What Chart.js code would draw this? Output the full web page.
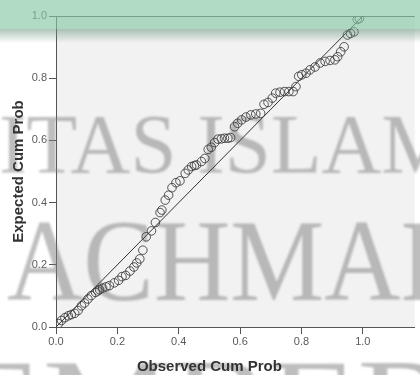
<!DOCTYPE html>
<html>
<head>
<meta charset="utf-8">
<script src="https://cdn.jsdelivr.net/npm/chart.js@4/dist/chart.umd.min.js"></script>
<style>
  html, body { margin: 0; padding: 0; background: #ffffff; }
  #wrap { width: 420px; height: 375px; position: relative; }
</style>
</head>
<body>
<div id="wrap"><canvas id="pp"></canvas></div>
<script>
// P-P plot data: observed vs expected cumulative probability
const observed = [
  0.008, 0.018, 0.029, 0.040, 0.050, 0.061, 0.072, 0.083, 0.093, 0.104,
  0.115, 0.129, 0.136, 0.142, 0.152, 0.163, 0.174, 0.190, 0.204, 0.215,
  0.227, 0.241, 0.254, 0.263, 0.273, 0.283, 0.294, 0.311, 0.324, 0.339,
  0.345, 0.356, 0.367, 0.378, 0.391, 0.404, 0.421, 0.431, 0.442, 0.451,
  0.458, 0.474, 0.485, 0.496, 0.506, 0.517, 0.528, 0.539, 0.549, 0.560,
  0.569, 0.582, 0.592, 0.605, 0.619, 0.635, 0.651, 0.667, 0.678, 0.691,
  0.705, 0.716, 0.730, 0.745, 0.759, 0.773, 0.782, 0.791, 0.801, 0.815,
  0.828, 0.844, 0.861, 0.877, 0.893, 0.909, 0.918, 0.928, 0.939, 0.950,
  0.960, 0.971, 0.982, 0.989
];
const expected = [
  0.011, 0.021, 0.030, 0.036, 0.040, 0.044, 0.053, 0.068, 0.077, 0.090,
  0.101, 0.111, 0.116, 0.120, 0.125, 0.129, 0.133, 0.142, 0.150, 0.162,
  0.166, 0.180, 0.193, 0.206, 0.219, 0.247, 0.290, 0.309, 0.336, 0.368,
  0.376, 0.408, 0.424, 0.448, 0.464, 0.470, 0.494, 0.505, 0.516, 0.519,
  0.521, 0.532, 0.542, 0.571, 0.578, 0.593, 0.604, 0.605, 0.607, 0.607,
  0.609, 0.644, 0.655, 0.666, 0.675, 0.682, 0.685, 0.687, 0.716, 0.722,
  0.736, 0.752, 0.755, 0.757, 0.757, 0.757, 0.773, 0.806, 0.811, 0.816,
  0.827, 0.836, 0.849, 0.854, 0.857, 0.859, 0.869, 0.885, 0.901, 0.939,
  0.944, 0.949, 0.989, 0.992
];
const refLine = [0, 1];
const tickValues = [0, 0.2, 0.4, 0.6, 0.8, 1.0];
const xTitle = "Observed Cum Prob";
const yTitle = "Expected Cum Prob";
const watermark = ["ITAS ISLAM", "ACHMAD", "EMBER"];

const points = observed.map((x, i) => ({ x: x, y: expected[i] }));
const diag = refLine.map(v => ({ x: v, y: v }));

const ppPlugin = {
  id: "ppDecor",
  beforeDraw(chart) {
    const { ctx, chartArea: a } = chart;
    ctx.save();
    ctx.fillStyle = "#f2f2f2";
    ctx.fillRect(a.left, a.top, a.right - a.left, a.bottom - a.top);
    ctx.restore();
  },
  beforeDatasetsDraw(chart) {
    const { ctx, chartArea: a, scales } = chart;
    ctx.save();
    // top frame line
    ctx.strokeStyle = "#555";
    ctx.lineWidth = 1;
    ctx.beginPath();
    ctx.moveTo(a.left, a.top + 0.5);
    ctx.lineTo(a.right, a.top + 0.5);
    ctx.stroke();

    // watermark (soft grey serif)
    ctx.save();
    ctx.filter = "blur(1px)";
    ctx.fillStyle = "rgba(125,125,125,0.5)";
    ctx.textBaseline = "alphabetic";
    const fit = (txt, size, x, y, w) => {
      ctx.font = size + "px 'Liberation Serif', serif";
      const m = ctx.measureText(txt).width;
      ctx.save();
      ctx.translate(x, y);
      ctx.scale(w / m, 1);
      ctx.fillText(txt, 0, 0);
      ctx.restore();
    };
    fit(watermark[0], 85, -1, 173, 456);
    fit(watermark[1], 116, 7, 300, 470);
    fit(watermark[2], 116, -46, 440, 500);
    ctx.restore();

    // titles, centred on the 0..1 range
    ctx.fillStyle = "#333";
    ctx.font = "bold 15px 'Liberation Sans', Arial, sans-serif";
    ctx.textAlign = "center";
    ctx.textBaseline = "middle";
    const xc = (scales.x.getPixelForValue(0) + scales.x.getPixelForValue(1)) / 2;
    ctx.fillText(xTitle, xc, 367);
    const yc = (scales.y.getPixelForValue(0) + scales.y.getPixelForValue(1)) / 2;
    ctx.translate(19, yc);
    ctx.rotate(-Math.PI / 2);
    ctx.fillText(yTitle, 0, 0);
    ctx.restore();
  },
  afterDraw(chart) {
    const { ctx, width } = chart;
    ctx.save();
    ctx.fillStyle = "rgba(135,200,165,0.65)";
    ctx.fillRect(0, 0, width, 29);
    const g = ctx.createLinearGradient(0, 29, 0, 43);
    g.addColorStop(0, "rgba(110,150,130,0.55)");
    g.addColorStop(1, "rgba(110,150,130,0)");
    ctx.fillStyle = g;
    ctx.fillRect(0, 29, width, 14);
    ctx.restore();
  }
};

new Chart(document.getElementById("pp"), {
  type: "scatter",
  data: {
    datasets: [
      {
        label: "Observed",
        data: points,
        pointStyle: "circle",
        pointRadius: 4.3,
        pointBorderWidth: 1,
        borderColor: "rgba(55,55,55,0.85)",
        backgroundColor: "rgba(0,0,0,0)",
      },
      {
        type: "line",
        label: "Reference",
        data: diag,
        borderColor: "#333",
        borderWidth: 1,
        pointRadius: 0,
        fill: false,
      },
    ],
  },
  options: {
    responsive: true,
    maintainAspectRatio: false,
    animation: false,
    layout: { padding: { top: 16, right: 0, left: 0, bottom: 0 } },
    plugins: { legend: { display: false }, tooltip: { enabled: false } },
    scales: {
      x: {
        type: "linear",
        min: 0,
        max: 1.169,
        afterBuildTicks: (s) => { s.ticks = tickValues.map(v => ({ value: v })); },
        afterFit: (s) => { s.height = 48; },
        ticks: {
          color: "#5a5a5a",
          padding: 1,
          maxRotation: 0,
          font: { family: "'Liberation Sans', Arial, sans-serif", size: 11 },
          callback: (v) => Number(v).toFixed(1),
        },
        grid: { drawOnChartArea: false, drawTicks: true, tickLength: 7, color: "#555" },
        border: { display: true, color: "#555", width: 1 },
      },
      y: {
        type: "linear",
        min: 0,
        max: 1,
        afterBuildTicks: (s) => { s.ticks = tickValues.map(v => ({ value: v })); },
        afterFit: (s) => { s.width = 56; },
        ticks: {
          color: "#5a5a5a",
          padding: 2,
          font: { family: "'Liberation Sans', Arial, sans-serif", size: 11 },
          callback: (v) => Number(v).toFixed(1),
        },
        grid: { drawOnChartArea: false, drawTicks: true, tickLength: 7, color: "#555" },
        border: { display: true, color: "#555", width: 1 },
      },
    },
  },
  plugins: [ppPlugin],
});
</script>
</body>
</html>
